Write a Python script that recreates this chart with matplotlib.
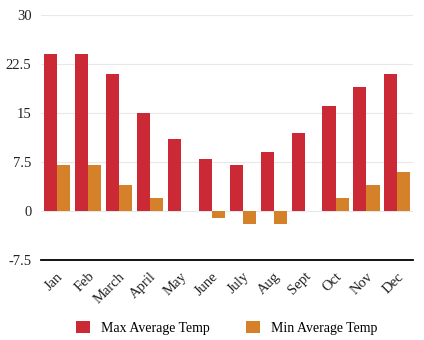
import matplotlib.pyplot as plt
import numpy as np

months = ["Jan", "Feb", "March", "April", "May", "June", "July", "Aug", "Sept", "Oct", "Nov", "Dec"]
max_temp = [24, 24, 21, 15, 11, 8, 7, 9, 12, 16, 19, 21]
min_temp = [7, 7, 4, 2, 0, -1, -2, -2, 0, 2, 4, 6]
yticks = [-7.5, 0, 7.5, 15, 22.5, 30]
ytick_labels = ["-7.5", "0", "7.5", "15", "22.5", "30"]

plt.rcParams["font.family"] = ["Liberation Serif", "DejaVu Serif"]

fig = plt.figure(figsize=(4.24, 3.4), dpi=100)
ax = fig.add_axes([0.097, 0.235, 0.877, 0.721])

x = np.arange(len(months))
w = 0.42
ax.bar(x - w / 2, max_temp, w, color="#cc2936", label="Max Average Temp", zorder=3)
ax.bar(x + w / 2, min_temp, w, color="#d4812a", label="Min Average Temp", zorder=3)

ax.set_xlim(-0.5, len(months) - 0.5)
ax.set_ylim(-7.5, 30)
ax.set_yticks(yticks)
ax.set_yticklabels(ytick_labels)
ax.set_xticks(x)
ax.set_xticklabels(months, rotation=45, ha="right", rotation_mode="anchor")
ax.tick_params(axis="both", length=0, labelsize=10.5, colors="#222222")
ax.tick_params(axis="y", pad=7)
ax.tick_params(axis="x", pad=7)
ax.grid(axis="y", color="#e8e8e8", linewidth=0.8, zorder=0)

for s in ["top", "right", "left"]:
    ax.spines[s].set_visible(False)
ax.spines["bottom"].set_linewidth(1.3)
ax.spines["bottom"].set_color("black")

fig.legend(loc="lower center", bbox_to_anchor=(0.535, -0.022), ncol=2, frameon=False,
           fontsize=10, handlelength=1.0, handleheight=1.0, columnspacing=2.65,
           handletextpad=0.8)

fig.savefig("out.png", dpi=100)
